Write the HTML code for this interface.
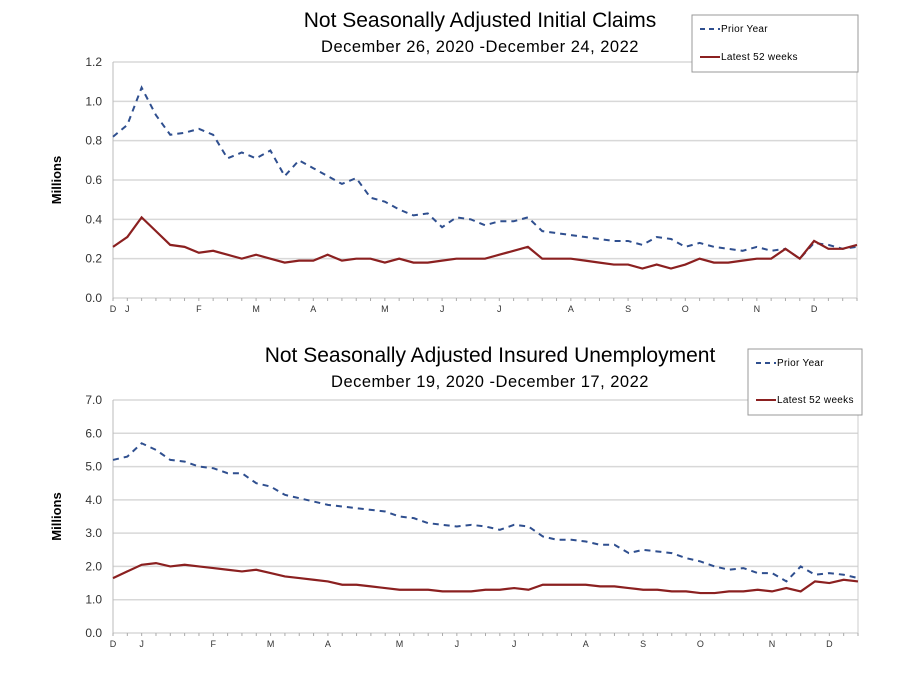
<!DOCTYPE html>
<html><head><meta charset="utf-8"><style>
body{margin:0;background:#fff}
svg{display:block;font-family:"Liberation Sans",sans-serif}
</style></head><body>
<svg id="c" width="911" height="677"></svg>
<script>
const topPrior=[0.82,0.88,1.07,0.93,0.83,0.84,0.86,0.83,0.71,0.74,0.71,0.75,0.62,0.70,0.66,0.62,0.58,0.61,0.51,0.49,0.45,0.42,0.43,0.36,0.41,0.40,0.37,0.39,0.39,0.41,0.34,0.33,0.32,0.31,0.30,0.29,0.29,0.27,0.31,0.30,0.26,0.28,0.26,0.25,0.24,0.26,0.24,0.25,0.20,0.28,0.27,0.25,0.26];
const topLatest=[0.26,0.31,0.41,0.34,0.27,0.26,0.23,0.24,0.22,0.20,0.22,0.20,0.18,0.19,0.19,0.22,0.19,0.20,0.20,0.18,0.20,0.18,0.18,0.19,0.20,0.20,0.20,0.22,0.24,0.26,0.20,0.20,0.20,0.19,0.18,0.17,0.17,0.15,0.17,0.15,0.17,0.20,0.18,0.18,0.19,0.20,0.20,0.25,0.20,0.29,0.25,0.25,0.27];
const topTicks=["0.0","0.2","0.4","0.6","0.8","1.0","1.2"];
const topMonths=["D","J","F","M","A","M","J","J","A","S","O","N","D"];
const topMonthWeeks=[0,1,6,10,14,19,23,27,32,36,40,45,49];
const botPrior=[5.2,5.3,5.7,5.5,5.2,5.15,5.0,4.95,4.8,4.8,4.5,4.4,4.15,4.05,3.95,3.85,3.8,3.75,3.7,3.65,3.5,3.45,3.3,3.25,3.2,3.25,3.2,3.1,3.25,3.2,2.9,2.8,2.8,2.75,2.65,2.65,2.4,2.5,2.45,2.4,2.25,2.15,2.0,1.9,1.95,1.8,1.8,1.55,2.0,1.75,1.8,1.75,1.65];
const botLatest=[1.65,1.85,2.05,2.1,2.0,2.05,2.0,1.95,1.9,1.85,1.9,1.8,1.7,1.65,1.6,1.55,1.45,1.45,1.4,1.35,1.3,1.3,1.3,1.25,1.25,1.25,1.3,1.3,1.35,1.3,1.45,1.45,1.45,1.45,1.4,1.4,1.35,1.3,1.3,1.25,1.25,1.2,1.2,1.25,1.25,1.3,1.25,1.35,1.25,1.55,1.5,1.6,1.55];
const botTicks=["0.0","1.0","2.0","3.0","4.0","5.0","6.0","7.0"];
const botMonths=["D","J","F","M","A","M","J","J","A","S","O","N","D"];
const botMonthWeeks=[0,2,7,11,15,20,24,28,33,37,41,46,50];

const NS="http://www.w3.org/2000/svg";
const svg=document.getElementById('c');
function mk(tag,attrs,parent,text){const e=document.createElementNS(NS,tag);for(const k in attrs)e.setAttribute(k,attrs[k]);if(text!==undefined)e.textContent=text;(parent||svg).appendChild(e);return e;}

function chart(cfg){
  const g=mk('g',{});
  
  
  const x=i=>cfg.x0+(cfg.x1-cfg.x0)*i/(cfg.prior.length-1);
  const y=v=>cfg.y0-(cfg.y0-cfg.y1)*v/cfg.max;
  cfg.ticks.forEach(t=>{
    const v=parseFloat(t);
    const l=mk('line',{x1:cfg.x0,x2:cfg.x1,y1:y(v),y2:y(v),stroke:'#d8d8d8','stroke-width':1.5},g);
    
    
    const tx=mk('text',{x:cfg.x0-11,y:y(v)+4,'text-anchor':'end','font-size':12,fill:'#333'},g,t);
    
    
  });
  mk('line',{x1:cfg.x0,x2:cfg.x0,y1:cfg.y1,y2:cfg.y0,stroke:'#bbb'},g);
  mk('line',{x1:cfg.x1,x2:cfg.x1,y1:cfg.y1,y2:cfg.y0,stroke:'#ccc'},g);
  for(let i=0;i<cfg.prior.length;i++){mk('line',{x1:x(i),x2:x(i),y1:cfg.y0,y2:cfg.y0+3,stroke:'#aaa'},g);}
  cfg.months.forEach((m,j)=>{
    const t=mk('text',{x:x(cfg.mw[j]),y:cfg.y0+14,'text-anchor':'middle','font-size':9,fill:'#333'},g,m);
    
    
  });
  const yt=mk('text',{x:0,y:0,transform:`translate(${cfg.x0-52},${(cfg.y0+cfg.y1)/2}) rotate(-90)`,'text-anchor':'middle','font-size':13,'font-weight':'bold'},g,'Millions');
  
  
  const p1=mk('polyline',{points:cfg.prior.map((v,i)=>x(i)+','+y(v)).join(' '),fill:'none',stroke:'#2f4f8f','stroke-width':2,'stroke-dasharray':'6,5'},g);
  
  
  const p2=mk('polyline',{points:cfg.latest.map((v,i)=>x(i)+','+y(v)).join(' '),fill:'none',stroke:'#8b2020','stroke-width':2.2},g);
  
  
  const t1=mk('text',{x:cfg.tx,y:cfg.ty,'text-anchor':'middle','font-size':21},g,cfg.title);
  
  
  const t2=mk('text',{x:cfg.tx,y:cfg.ty+25,'text-anchor':'middle','font-size':16.5,'letter-spacing':0.5},g,cfg.sub);
  
  
  const L=cfg.leg;
  const lg=mk('g',{},g);
  
  
  mk('rect',{x:L[0],y:L[1],width:L[2],height:L[3],fill:'#fff',stroke:'#999'},lg);
  mk('line',{x1:L[0]+8,x2:L[0]+28,y1:L[1]+14,y2:L[1]+14,stroke:'#2f4f8f','stroke-width':2,'stroke-dasharray':'5,4'},lg);
  mk('text',{x:L[0]+29,y:L[1]+17,'font-size':10,'letter-spacing':0.3},lg,'Prior Year');
  mk('line',{x1:L[0]+8,x2:L[0]+28,y1:L[1]+L[3]-15,y2:L[1]+L[3]-15,stroke:'#8b2020','stroke-width':2},lg);
  mk('text',{x:L[0]+29,y:L[1]+L[3]-12,'font-size':10,'letter-spacing':0.3},lg,'Latest 52 weeks');
}
chart({name:'initial-claims-chart',x0:113,x1:857,y0:298,y1:62,max:1.2,prior:topPrior,latest:topLatest,ticks:topTicks,months:topMonths,mw:topMonthWeeks,
  title:'Not Seasonally Adjusted Initial Claims',sub:'December 26, 2020 -December 24, 2022',tx:480,ty:27,leg:[692,15,166,57]});
chart({name:'insured-unemployment-chart',x0:113,x1:858,y0:633,y1:400,max:7,prior:botPrior,latest:botLatest,ticks:botTicks,months:botMonths,mw:botMonthWeeks,
  title:'Not Seasonally Adjusted Insured Unemployment',sub:'December 19, 2020 -December 17, 2022',tx:490,ty:362,leg:[748,349,114,66]});
</script>
</body></html>
